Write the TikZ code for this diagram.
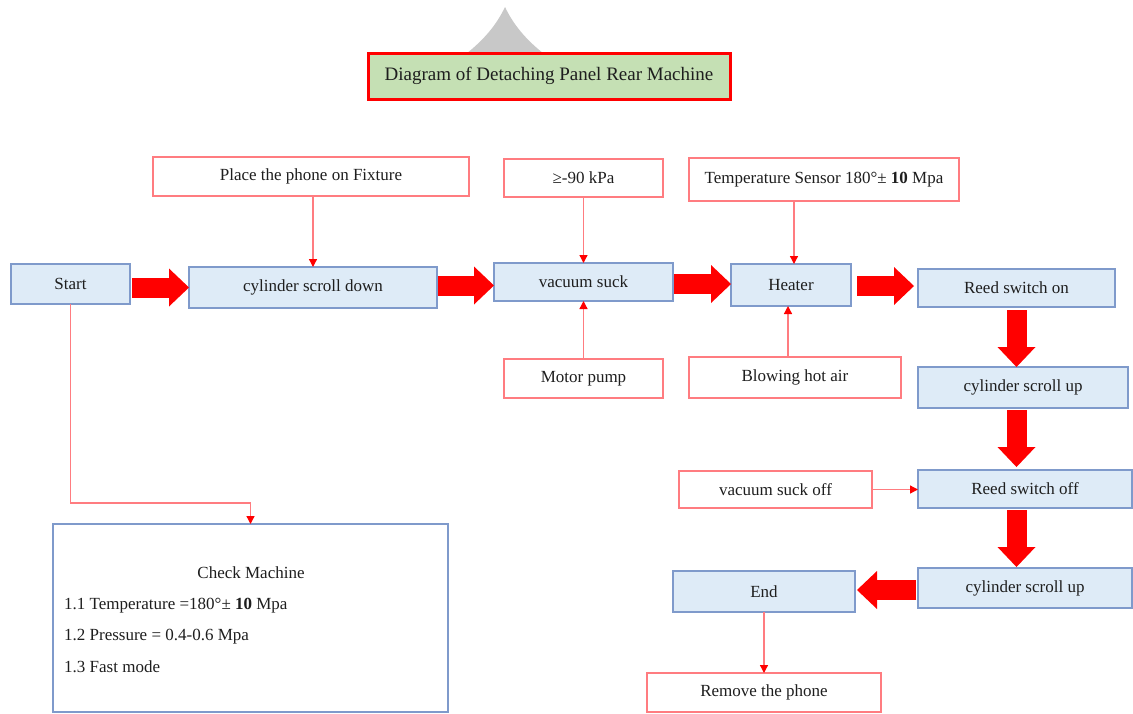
\documentclass[tikz,border=0pt]{standalone}
\usepackage{fontspec}
\setmainfont{Liberation Serif}
\usetikzlibrary{arrows.meta}
\definecolor{bluefill}{HTML}{DEEBF7}
\definecolor{blueline}{HTML}{7F9ACB}
\definecolor{pinkline}{HTML}{FF7C80}
\definecolor{titlefill}{HTML}{C5E0B4}
\definecolor{txt}{HTML}{1E1E1E}
\definecolor{grayshape}{HTML}{C8C8C8}
\tikzset{
  base/.style={rectangle, inner sep=0pt, outer sep=0pt, font=\fontsize{17}{20}\selectfont, text=txt},
  bluebox/.style={base, draw=blueline, fill=bluefill, line width=1.5pt},
  pinkbox/.style={base, draw=pinkline, fill=white, line width=1.5pt},
  titlebox/.style={base, draw=red, fill=titlefill, line width=3pt, font=\fontsize{19}{22}\selectfont},
  thin/.style={draw=pinkline, line width=1.3pt, -{Triangle[length=8pt 0 0,width=8pt 0 0,color=red]}},
  blockarrow/.style={draw=red, line width=20pt, -{Triangle[length=20pt 0 0,width=38pt 0 0,line width=0pt 0 0]}},
  plain/.style={inner sep=0pt, font=\fontsize{17}{20}\selectfont, text=txt}
}
\begin{document}
\begin{tikzpicture}[x=1pt,y=-1pt]
\useasboundingbox (0,0) rectangle (1133,713);
% gray shape behind title
\fill[grayshape] (458,60) .. controls (480,44) and (495,28) .. (505,7) .. controls (515,28) and (530,44) .. (552,60) -- cycle;
\node[titlebox, minimum width=362, minimum height=46] (title) at (549,76) {Diagram of Detaching Panel Rear Machine};

\node[pinkbox, minimum width=316, minimum height=39] (place) at (311,176.5) {Place the phone on Fixture};
\node[pinkbox, minimum width=159, minimum height=38] (ge) at (583.5,178) {≥-90 kPa};
\node[pinkbox, minimum width=270, minimum height=43] (temp) at (824,179.5) {Temperature Sensor 180°± \textbf{10} Mpa};

\node[bluebox, minimum width=119, minimum height=40] (start) at (70.5,284) {Start};
\node[bluebox, minimum width=248, minimum height=41] (cyl) at (313,287.5) {cylinder scroll down};
\node[bluebox, minimum width=179, minimum height=38] (vac) at (583.5,282) {vacuum suck};
\node[bluebox, minimum width=120, minimum height=42] (heat) at (791,285) {Heater};
\node[bluebox, minimum width=197, minimum height=38] (reedon) at (1016.5,288) {Reed switch on};

\node[pinkbox, minimum width=159, minimum height=39] (motor) at (583.5,378.5) {Motor pump};
\node[pinkbox, minimum width=212, minimum height=41] (blow) at (795,377.5) {Blowing hot air};

\node[bluebox, minimum width=210, minimum height=41] (cylup1) at (1023,387.5) {cylinder scroll up};
\node[pinkbox, minimum width=193, minimum height=37] (vacoff) at (775.5,489.5) {vacuum suck off};
\node[bluebox, minimum width=214, minimum height=38] (reedoff) at (1025,489) {Reed switch off};
\node[bluebox, minimum width=214, minimum height=40] (cylup2) at (1025,588) {cylinder scroll up};
\node[bluebox, minimum width=182, minimum height=41] (endn) at (764,591.5) {End};
\node[pinkbox, minimum width=234, minimum height=39] (remove) at (764,692.5) {Remove the phone};

\node[base, draw=blueline, fill=white, line width=1.5pt, minimum width=395, minimum height=188] (check) at (250.5,618) {};
\node[plain] (chk0) at (251,573) {Check Machine};
\node[plain, anchor=west] (chk1) at (64,606) {1.1 Temperature =180°± \textbf{10} Mpa};
\node[plain, anchor=west] (chk2) at (64,637) {1.2 Pressure = 0.4-0.6 Mpa};
\node[plain, anchor=west] (chk3) at (64,667) {1.3 Fast mode};

% thin connectors
\draw[thin] (place.south -| cyl.north) -- (cyl.north);
\draw[thin] (ge.south) -- (vac.north);
\draw[thin] ([xshift=3pt]heat.north |- temp.south) -- ([xshift=3pt]heat.north);
\draw[thin] (motor.north) -- (vac.south);
\draw[thin] ([xshift=-3pt]heat.south |- blow.north) -- ([xshift=-3pt]heat.south);
\draw[thin] (vacoff.east) -- (reedoff.west |- vacoff.east);
\draw[thin] (endn.south) -- (remove.north);
\coordinate (bend) at (70.5,503);
\draw[thin] (start.south) -- (bend) -| (check.north);

% block arrows
\coordinate (a2s) at ([xshift=1pt,yshift=2pt]cyl.east);
\coordinate (a8s) at ([xshift=-2pt,yshift=-2pt]cylup2.west);
\draw[blockarrow] ([xshift=2pt]start.east |- cyl.west) -- (cyl.west);
\draw[blockarrow] (a2s) -- (vac.west |- a2s);
\draw[blockarrow] ([xshift=1pt,yshift=-2pt]vac.east) -- ([yshift=-2pt]heat.west |- vac.east);
\draw[blockarrow] ([xshift=6pt,yshift=-1pt]heat.east) -- ([xshift=-4pt,yshift=-1pt]reedon.west |- heat.east);
\draw[blockarrow] ([yshift=-3pt]reedon.south) -- (cylup1.north -| reedon.south);
\draw[blockarrow] ([yshift=-2pt]cylup1.south -| reedon.south) -- ([yshift=3pt]reedoff.north -| reedon.south);
\draw[blockarrow] ([yshift=-2pt]reedoff.south -| reedon.south) -- ([yshift=1pt]cylup2.north -| reedon.south);
\draw[blockarrow] (a8s) -- ([xshift=2pt]endn.east |- a8s);
\end{tikzpicture}
\end{document}
